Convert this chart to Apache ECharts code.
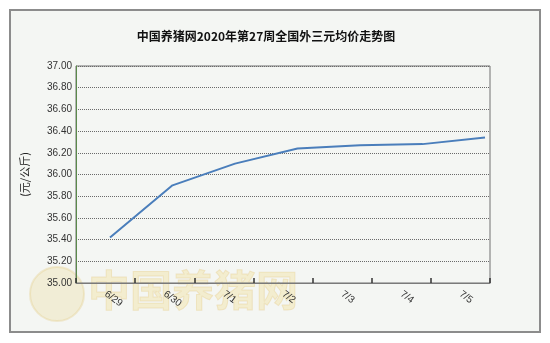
<!DOCTYPE html>
<html>
<head>
<meta charset="utf-8">
<script src="https://cdn.jsdelivr.net/npm/echarts@6/dist/echarts.min.js"></script>
<style>
html,body{margin:0;padding:0;background:#fff;}
#c{width:550px;height:343px;}
</style>
</head>
<body>
<div id="c"></div>
<script>
var categories = ['6/29', '6/30', '7/1', '7/2', '7/3', '7/4', '7/5'];
var prices = [35.42, 35.90, 36.10, 36.24, 36.27, 36.28, 36.34];
var yTicks = { min: 35, max: 37, step: 0.2 };
var titleText = '中国养猪网2020年第27周全国外三元均价走势图';
var unitText = '(元/公斤)';
var watermarkText = '中国养猪网';

var chart = echarts.init(document.getElementById('c'), null, { renderer: 'canvas' });
var lineData = prices.map(function (v, i) { return [i, v]; });

chart.setOption({
  animation: false,
  backgroundColor: '#ffffff',
  graphic: [
    { type: 'rect', z: -10, shape: { x: 10, y: 10, width: 530, height: 322 },
      style: { fill: '#f4f6f3', stroke: '#8c8c8c', lineWidth: 2 } },
    { type: 'circle', z: -5, shape: { cx: 57, cy: 294, r: 27 },
      style: { fill: 'rgba(236,222,160,0.35)', stroke: 'rgba(225,200,120,0.3)', lineWidth: 2 } },
    { type: 'text', z: -5, x: 88, y: 290,
      style: { text: watermarkText, font: 'bold 42px "Noto Sans CJK SC"', fill: 'rgba(240,220,140,0.35)',
        stroke: 'rgba(225,190,110,0.3)', lineWidth: 1, textVerticalAlign: 'middle' } }
  ],
  title: {
    text: titleText,
    left: 261, top: 25, textAlign: 'center',
    textStyle: { fontFamily: '"Noto Sans CJK SC"', fontSize: 12, fontWeight: 'bold', color: '#111' }
  },
  grid: { left: 76, top: 66, right: 60, bottom: 60, show: true, borderColor: '#707070', borderWidth: 1, backgroundColor: 'transparent' },
  xAxis: [
    {
      type: 'category', data: categories, boundaryGap: true, position: 'bottom',
      axisLine: { show: true, onZero: false, lineStyle: { color: '#7a7a7a', width: 1 } },
      axisTick: { show: true, inside: true, length: 5, interval: 0, lineStyle: { color: '#333', width: 1.5 } },
      axisLabel: { rotate: -36, margin: 10, fontFamily: '"Liberation Sans"', fontSize: 10, color: '#333' },
      splitLine: { show: false }
    },
    {
      type: 'value', show: false, position: 'top', min: -0.544, max: 6.08,
      splitLine: { show: false }
    }
  ],
  yAxis: {
    type: 'value', position: 'left', min: yTicks.min, max: yTicks.max, interval: yTicks.step,
    name: unitText, nameLocation: 'middle', nameRotate: 90, nameGap: 46,
    nameTextStyle: { fontFamily: '"Noto Sans CJK SC"', fontSize: 11, color: '#222' },
    axisLine: { show: true, onZero: false, lineStyle: { color: '#5a8a4a', width: 1 } },
    axisTick: { show: false },
    axisLabel: { formatter: function (v) { return v.toFixed(2); }, margin: 4,
      fontFamily: '"Liberation Sans"', fontSize: 10, color: '#333' },
    splitLine: { show: true, lineStyle: { type: 'dotted', color: '#6a6a6a', width: 1 } }
  },
  series: [{
    type: 'line', xAxisIndex: 1, data: lineData,
    symbol: 'none', smooth: false,
    lineStyle: { color: '#4a7ebb', width: 2 }
  }]
});
</script>
</body>
</html>
